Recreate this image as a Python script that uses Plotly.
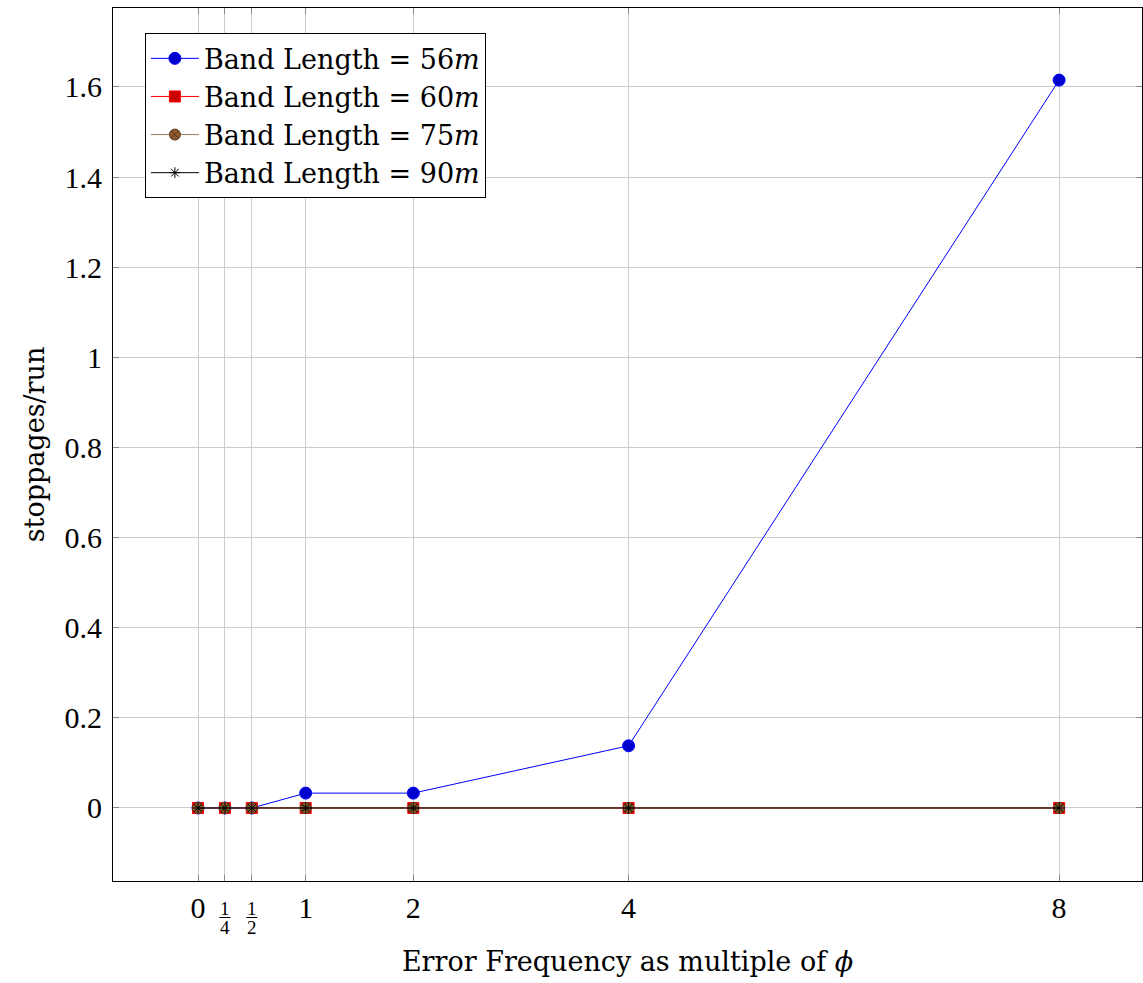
import plotly.graph_objects as go

x_vals = [0, 0.25, 0.5, 1, 2, 4, 8]
y_56 = [0, 0, 0, 0.033, 0.033, 0.138, 1.615]
y_60 = [0, 0, 0, 0, 0, 0, 0]
y_75 = [0, 0, 0, 0, 0, 0, 0]
y_90 = [0, 0, 0, 0, 0, 0, 0]

x_tickvals = [0, 0.25, 0.5, 1, 2, 4, 8]
x_ticktext = ["0", "", "", "1", "2", "4", "8"]
frac_vals = [0.25, 0.5]
frac_num = ["1", "1"]
frac_den = ["4", "2"]
y_tickvals = [0, 0.2, 0.4, 0.6, 0.8, 1, 1.2, 1.4, 1.6]
y_ticktext = ["0", "0.2", "0.4", "0.6", "0.8", "1", "1.2", "1.4", "1.6"]

FONT = "DejaVu Serif"
NUMFONT = "Liberation Serif"

fig = go.Figure()
fig.add_trace(go.Scatter(x=x_vals, y=y_56, mode="lines+markers",
                         name="Band Length = 56<i>m</i>",
                         line=dict(color="#0000ff", width=1),
                         marker=dict(symbol="circle", size=12, color="#0000cc",
                                     line=dict(color="#0000ff", width=1))))
fig.add_trace(go.Scatter(x=x_vals, y=y_60, mode="lines+markers",
                         name="Band Length = 60<i>m</i>",
                         line=dict(color="#ff0000", width=1),
                         marker=dict(symbol="square", size=11, color="#cc0000",
                                     line=dict(color="#ff0000", width=1))))
fig.add_trace(go.Scatter(x=x_vals, y=y_75, mode="lines+markers",
                         name="Band Length = 75<i>m</i>",
                         line=dict(color="#9a7a5a", width=1),
                         marker=dict(symbol="circle-x", size=11, color="#8c5a2c",
                                     line=dict(color="#5a3a1c", width=1))))
fig.add_trace(go.Scatter(x=x_vals, y=y_90, mode="lines+markers",
                         name="Band Length = 90<i>m</i>",
                         line=dict(color="#000000", width=1),
                         marker=dict(symbol="asterisk-open", size=9, color="#000000",
                                     line=dict(color="#000000", width=1))))

axis_common = dict(showline=True, linecolor="black", linewidth=1, mirror="ticks",
                   ticks="inside", ticklen=6, tickcolor="#888888",
                   showgrid=True, gridcolor="#cccccc", gridwidth=1,
                   zeroline=False, automargin=False,
                   tickfont=dict(family=NUMFONT, size=30, color="black"))

fig.update_xaxes(range=[-0.79, 8.77], tickvals=x_tickvals, ticktext=x_ticktext,
                 title=dict(text="Error Frequency as multiple of <i>ϕ</i>",
                            font=dict(family=FONT, size=27, color="black"), standoff=29),
                 **axis_common)
fig.update_yaxes(range=[-0.162, 1.775], tickvals=y_tickvals, ticktext=y_ticktext,
                 ticklabelstandoff=4,
                 title=dict(text="stoppages/run",
                            font=dict(family=FONT, size=27, color="black"), standoff=12),
                 **axis_common)

for v, n, d in zip(frac_vals, frac_num, frac_den):
    fig.add_annotation(x=v, xref="x", y=0, yref="paper", text=n, showarrow=False,
                       yanchor="middle", yshift=-27,
                       font=dict(family=NUMFONT, size=19, color="black"))
    fig.add_annotation(x=v, xref="x", y=0, yref="paper", text=d, showarrow=False,
                       yanchor="middle", yshift=-46,
                       font=dict(family=NUMFONT, size=19, color="black"))
    fig.add_shape(type="line", xref="x", xsizemode="pixel", xanchor=v, x0=-5.5, x1=5.5,
                  yref="paper", ysizemode="pixel", yanchor=0, y0=-36.5, y1=-36.5,
                  line=dict(color="black", width=1))

fig.update_layout(
    width=1143, height=983,
    margin=dict(l=113, r=1, t=8, b=102),
    plot_bgcolor="white", paper_bgcolor="white",
    font=dict(family=FONT, size=27, color="black"),
    showlegend=True,
    legend=dict(x=0.031, y=0.971, xanchor="left", yanchor="top",
                bgcolor="white", bordercolor="black", borderwidth=1,
                font=dict(family=FONT, size=27, color="black"),
                tracegroupgap=0, itemwidth=48),
)

fig.write_html("out.html")
